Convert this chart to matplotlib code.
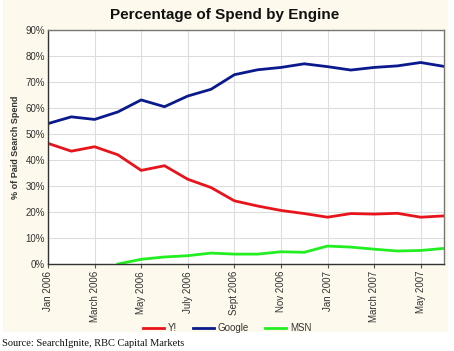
import matplotlib
matplotlib.use("Agg")
import matplotlib.pyplot as plt
import numpy as np
from matplotlib.patches import Rectangle

months = ["Jan 2006", "Feb 2006", "March 2006", "Apr 2006", "May 2006", "June 2006",
          "July 2006", "Aug 2006", "Sept 2006", "Oct 2006", "Nov 2006", "Dec 2006",
          "Jan 2007", "Feb 2007", "March 2007", "Apr 2007", "May 2007", "June 2007"]
yahoo = [46.4, 43.4, 45.1, 42.0, 36.0, 37.8, 32.6, 29.4, 24.3, 22.3, 20.6, 19.4,
         18.0, 19.4, 19.2, 19.5, 18.0, 18.5]
google = [54.0, 56.6, 55.6, 58.5, 63.1, 60.5, 64.6, 67.2, 72.8, 74.7, 75.6, 77.0,
          75.9, 74.6, 75.6, 76.2, 77.5, 76.0]
msn = [np.nan, np.nan, np.nan, 0.0, 1.8, 2.7, 3.2, 4.2, 3.8, 3.8, 4.7, 4.5,
       6.9, 6.5, 5.7, 5.0, 5.2, 6.0]
yticks = [0, 10, 20, 30, 40, 50, 60, 70, 80, 90]
ytick_labels = ["0%", "10%", "20%", "30%", "40%", "50%", "60%", "70%", "80%", "90%"]

plt.rcParams['font.family'] = ['Liberation Sans', 'DejaVu Sans']

fig = plt.figure(figsize=(4.54, 3.51), dpi=100)
fig.patch.set_facecolor('white')
fig.patches.append(Rectangle((3 / 454, 1 - 332 / 351), 445 / 454, 332 / 351,
                             transform=fig.transFigure, facecolor='#fdf9ec',
                             edgecolor='none', zorder=-10))

ax = fig.add_axes([48 / 454, 1 - 264 / 351, (444 - 48) / 454, (264 - 30) / 351])
ax.set_facecolor('white')
x = np.arange(len(months))
l1, = ax.plot(x, yahoo, color='#e8141b', lw=2, label='Y!')
l2, = ax.plot(x, google, color='#0a1a8c', lw=2, label='Google')
l3, = ax.plot(x, msn, color='#22ee22', lw=2, label='MSN')

ax.set_xlim(0, len(months) - 1)
ax.set_ylim(0, 90)
ax.set_yticks(yticks)
ax.set_yticklabels(ytick_labels, fontsize=7, color='#333333')
xt = x[::2]
ax.set_xticks(xt)
ax.set_xticklabels([months[i] for i in xt], rotation=90, fontsize=7, color='#333333')
ax.grid(True, color='#dddddd', lw=0.8)
ax.set_axisbelow(True)
ax.tick_params(axis='both', length=3, color='#555555', direction='out', pad=2)
ax.tick_params(axis='y', length=0)
for s in ['left', 'bottom']:
    ax.spines[s].set_color('#333333')
    ax.spines[s].set_linewidth(1)
for s in ['top', 'right']:
    ax.spines[s].set_color('#777777')
    ax.spines[s].set_linewidth(1)

ax.set_ylabel('% of Paid Search Spend', fontsize=6.5, fontweight='bold', color='#333333', labelpad=4)
fig.text(225 / 454, 1 - 15 / 351, 'Percentage of Spend by Engine', fontsize=11,
         fontweight='bold', ha='center', va='center', color='#111111')

fig.legend(handles=[l1, l2, l3], loc='center', bbox_to_anchor=(227 / 454, 1 - 328 / 351),
           ncol=3, frameon=False, fontsize=7, handlelength=2.2, handletextpad=0.4,
           columnspacing=1.6, labelcolor='#333333')

fig.text(2 / 454, 1 - 343 / 351, 'Source: SearchIgnite, RBC Capital Markets',
         family=['Liberation Serif', 'DejaVu Serif'], fontsize=7.5, ha='left', va='center',
         color='#111111')

fig.savefig('out.png', dpi=100, facecolor=fig.get_facecolor())
